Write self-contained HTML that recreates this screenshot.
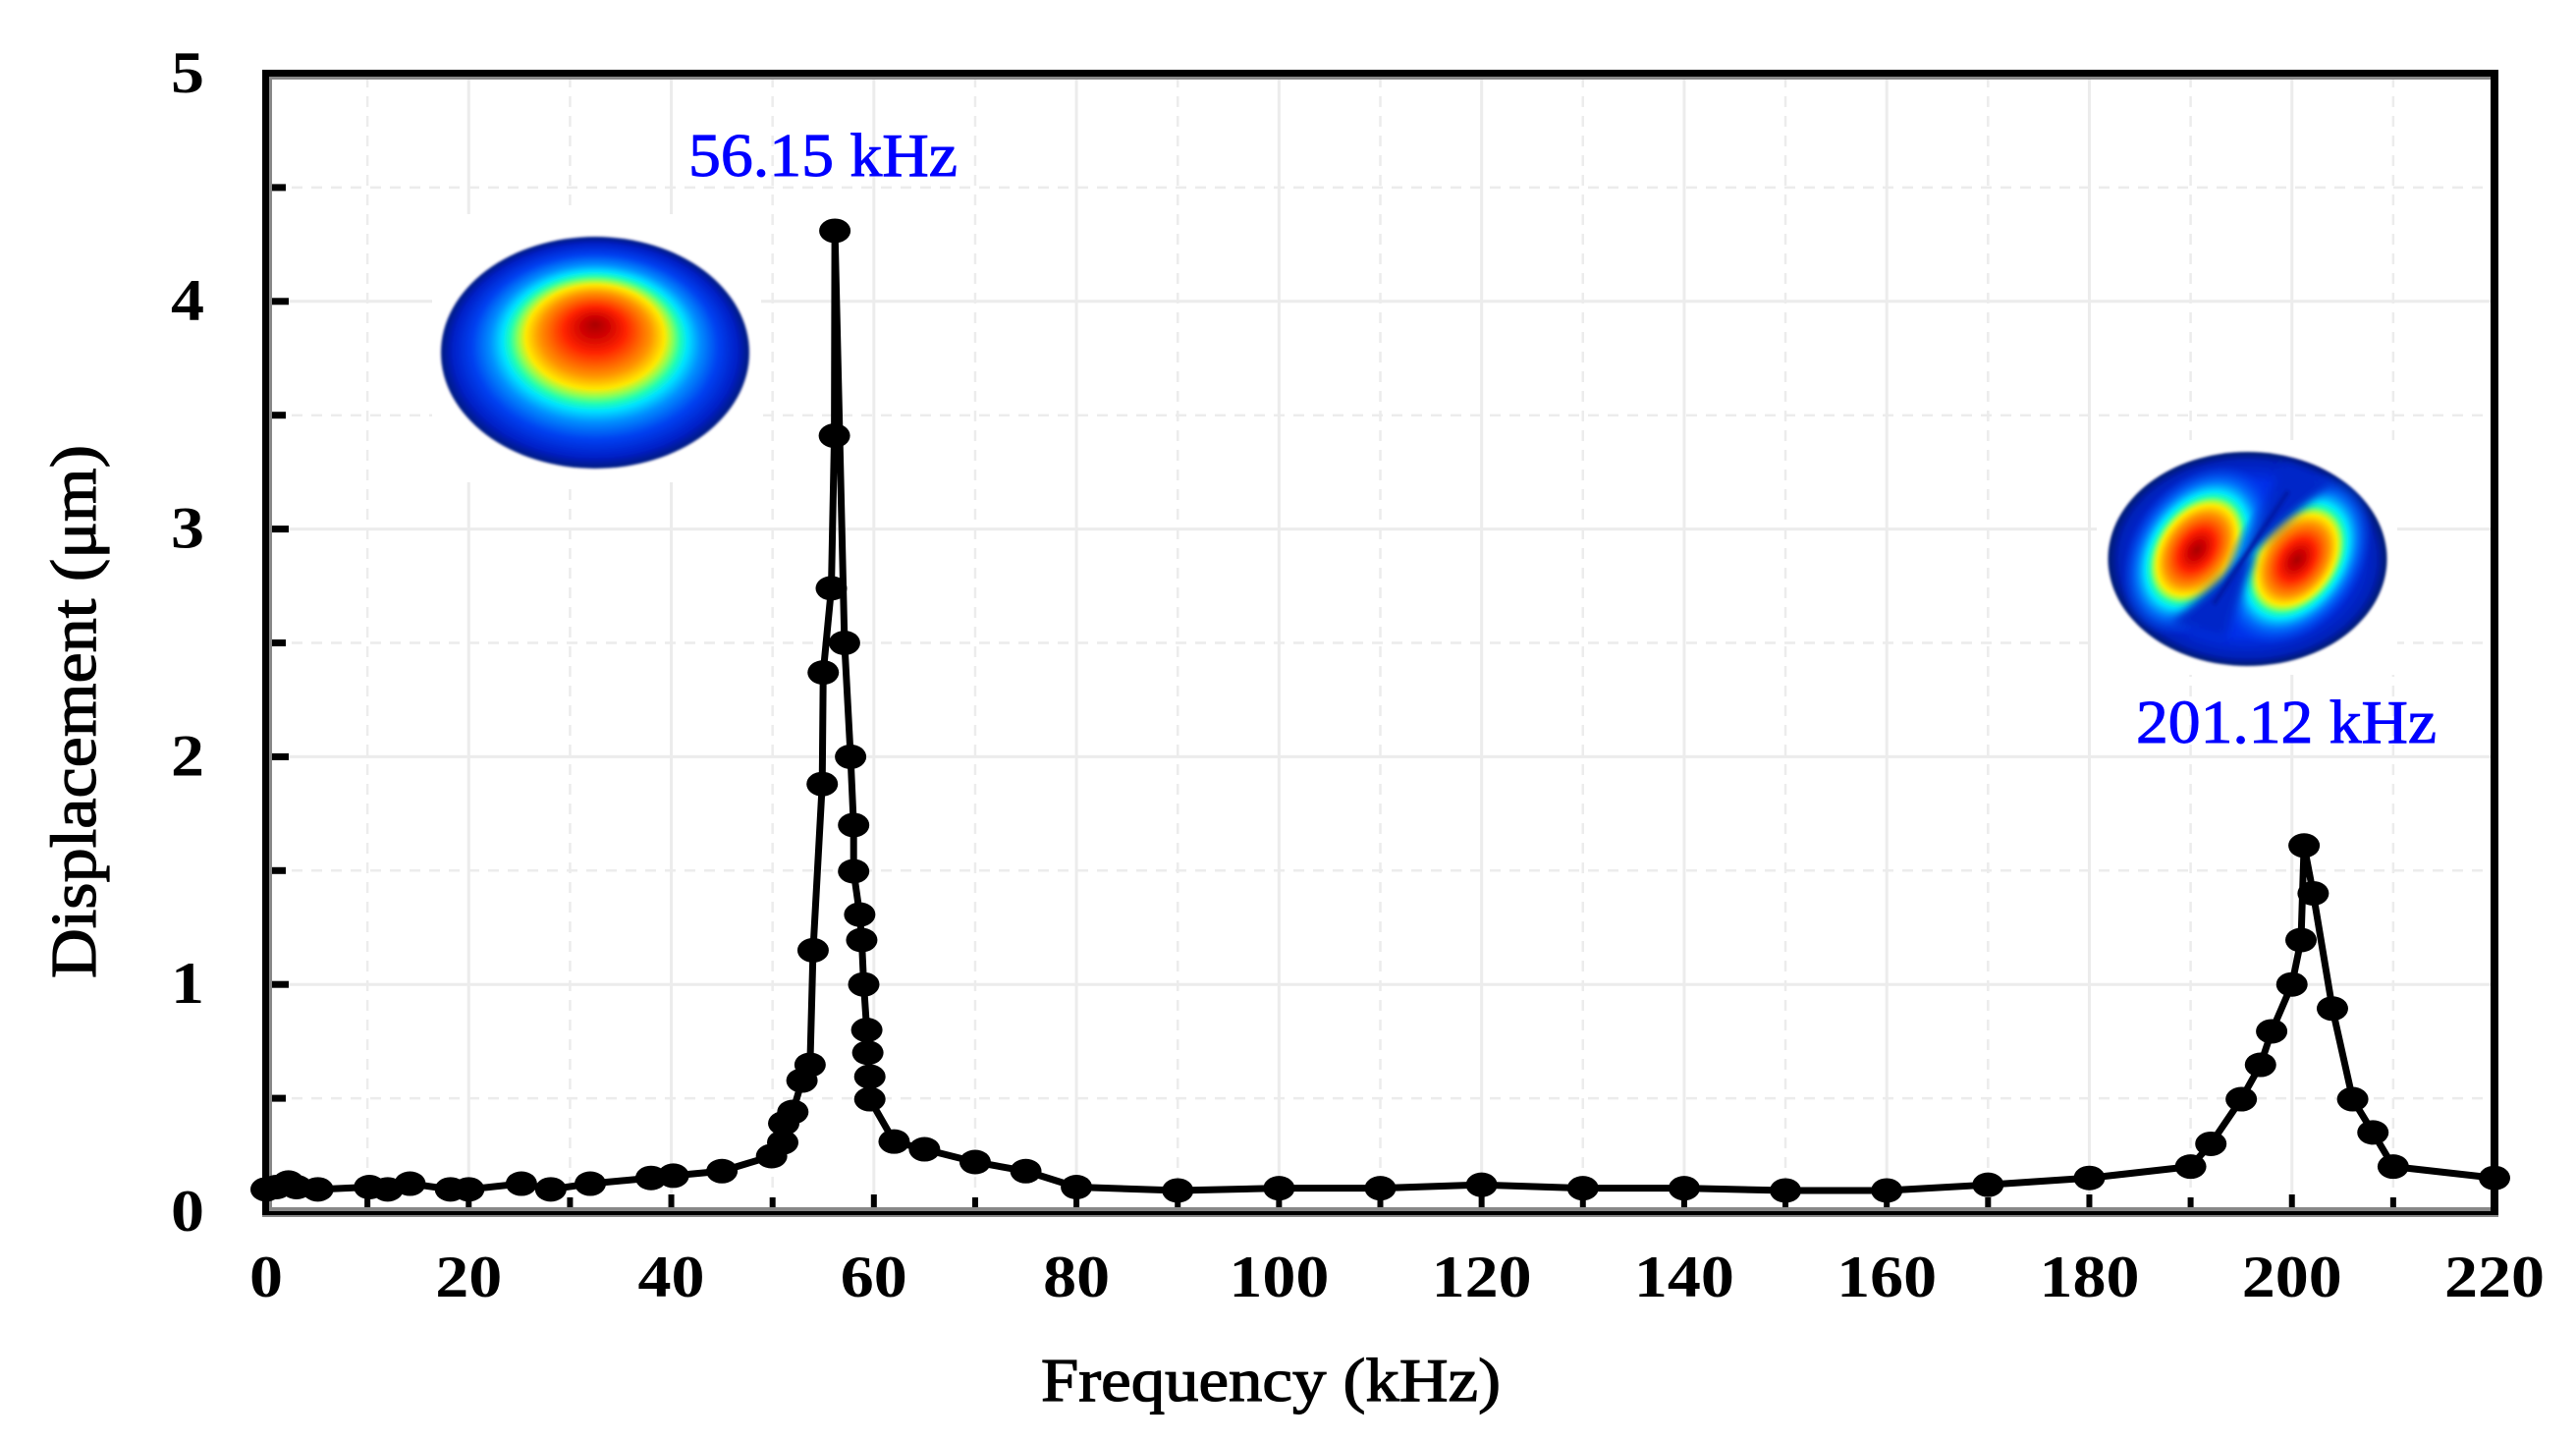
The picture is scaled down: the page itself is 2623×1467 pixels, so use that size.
<!DOCTYPE html>
<html lang="en">
<head>
<meta charset="utf-8">
<title>Displacement vs Frequency</title>
<style>
html,body{margin:0;padding:0;background:#fff;width:2623px;height:1467px;overflow:hidden}
svg{display:block}
text{font-family:"Liberation Serif",serif}
</style>
</head>
<body>
<svg id="chart" xmlns="http://www.w3.org/2000/svg" width="2623" height="1467" viewBox="0 0 2623 1467">
  <defs>
    <radialGradient id="jet1" cx="0.5" cy="0.5" r="0.5" fx="0.5" fy="0.377">
      <stop offset="0" stop-color="#a80000"/>
      <stop offset="0.08" stop-color="#cc0000"/>
      <stop offset="0.2" stop-color="#ff2400"/>
      <stop offset="0.36" stop-color="#ff9400"/>
      <stop offset="0.45" stop-color="#ffea00"/>
      <stop offset="0.5" stop-color="#90ff50"/>
      <stop offset="0.55" stop-color="#20ffb0"/>
      <stop offset="0.6" stop-color="#00e4ff"/>
      <stop offset="0.68" stop-color="#0090ff"/>
      <stop offset="0.8" stop-color="#0040f0"/>
      <stop offset="0.92" stop-color="#0020c8"/>
      <stop offset="1" stop-color="#001a80"/>
    </radialGradient>
    <radialGradient id="jet2base" cx="0.5" cy="0.5" r="0.5">
      <stop offset="0" stop-color="#0050ff"/>
      <stop offset="0.72" stop-color="#0030e8"/>
      <stop offset="0.92" stop-color="#0020b8"/>
      <stop offset="1" stop-color="#001a70"/>
    </radialGradient>
    <radialGradient id="lobe" cx="0.5" cy="0.5" r="0.5">
      <stop offset="0" stop-color="#a80000"/>
      <stop offset="0.1" stop-color="#cc0000"/>
      <stop offset="0.24" stop-color="#ff2400"/>
      <stop offset="0.42" stop-color="#ff9400"/>
      <stop offset="0.52" stop-color="#ffea00"/>
      <stop offset="0.57" stop-color="#a0ff40"/>
      <stop offset="0.62" stop-color="#20ffb0"/>
      <stop offset="0.68" stop-color="#00e4ff"/>
      <stop offset="0.8" stop-color="#0080ff" stop-opacity="0.85"/>
      <stop offset="1" stop-color="#0040f0" stop-opacity="0"/>
    </radialGradient>
    <clipPath id="clip2"><ellipse cx="2288.5" cy="569" rx="142" ry="109"/></clipPath>
    <filter id="soft" x="-20%" y="-20%" width="140%" height="140%"><feGaussianBlur stdDeviation="1.2"/></filter>
    <filter id="nodal" x="-50%" y="-50%" width="200%" height="200%"><feGaussianBlur stdDeviation="5"/></filter>
  </defs>
  <g id="grid"></g>
  <rect x="440" y="218" width="335" height="273" fill="#fff"/>
  <rect x="2135" y="448" width="306" height="239" fill="#fff"/>
  <ellipse cx="606" cy="359" rx="157" ry="118" fill="url(#jet1)" filter="url(#soft)"/>
  <g filter="url(#soft)">
    <ellipse cx="2288.5" cy="569" rx="142" ry="109" fill="url(#jet2base)"/>
    <g clip-path="url(#clip2)">
      <ellipse cx="2237" cy="560" rx="96" ry="66" fill="url(#lobe)" transform="rotate(-55 2237 560)"/>
      <ellipse cx="2339" cy="570" rx="96" ry="66" fill="url(#lobe)" transform="rotate(-55 2339 570)"/>
      <polygon points="2325,470 2375,490 2294,562 2295,570 2265,650 2210,635 2286,566 2288,558" fill="#0028c8" filter="url(#nodal)"/>
      <line x1="2330" y1="500" x2="2254" y2="615" stroke="#001ca8" stroke-width="5" filter="url(#soft)"/>
    </g>
  </g>
  <g id="ticks"></g>
  <g>
    <rect x="274" y="78" width="3" height="1155" fill="#888"/>
    <rect x="274" y="78" width="2262" height="3" fill="#888"/>
    <rect x="274" y="1229" width="2262" height="4" fill="#888"/>
    <rect x="267" y="1237" width="2277" height="2" fill="#888"/>
    <rect x="267" y="71" width="7" height="1166" fill="#000"/>
    <rect x="2536" y="71" width="8" height="1166" fill="#000"/>
    <rect x="267" y="71" width="2277" height="7" fill="#000"/>
    <rect x="267" y="1233" width="2277" height="4" fill="#000"/>
  </g>
  <g id="series"></g>
  <g id="labels"></g>
  <text x="1060" y="1426" font-size="62" font-weight="400" stroke="#000" stroke-width="1.2" textLength="468" lengthAdjust="spacingAndGlyphs" fill="#000">Frequency (kHz)</text>
  <text transform="translate(97 996) rotate(-90)" x="0" y="0" font-size="66" font-weight="400" stroke="#000" stroke-width="1.2" textLength="543" lengthAdjust="spacingAndGlyphs" fill="#000">Displacement (μm)</text>
  <text x="701" y="179" font-size="62" font-weight="400" stroke="#0000ff" stroke-width="1" textLength="274" lengthAdjust="spacingAndGlyphs" fill="#0000ff">56.15 kHz</text>
  <text x="2175" y="756" font-size="62" font-weight="400" stroke="#0000ff" stroke-width="1" textLength="306" lengthAdjust="spacingAndGlyphs" fill="#0000ff">201.12 kHz</text>
</svg>
<script>
const frequencies = [0,1,2.2,3,5.1,10.2,12,14.2,18.2,20,25.2,28.1,32,38,40.2,45,49.9,51,51.1,52,52.9,53.7,54,54.9,55,55.8,56.1,56.15,57.1,57.7,58,58,58.6,58.8,59,59.3,59.4,59.6,59.6,62,65,70,75,80,90,100,110,120,130,140,150,160,170,180,190,192,195,196.9,198,200,200.9,201.2,202.1,204,206,208,210,220];
const displacements = [0.1,0.11,0.13,0.11,0.1,0.11,0.1,0.125,0.1,0.1,0.125,0.1,0.125,0.15,0.16,0.18,0.246,0.306,0.39,0.44,0.578,0.647,1.15,1.88,2.37,2.74,3.41,4.31,2.5,2.0,1.7,1.497,1.307,1.195,1.0,0.8,0.7,0.595,0.496,0.31,0.276,0.22,0.18,0.11,0.095,0.105,0.105,0.12,0.105,0.105,0.095,0.095,0.12,0.15,0.2,0.3,0.496,0.647,0.794,1.0,1.195,1.61,1.4,0.894,0.496,0.35,0.2,0.15];
const xTickLabels = ["0","20","40","60","80","100","120","140","160","180","200","220"];
const yTickLabels = ["0","1","2","3","4","5"];

const SVG_NS = "http://www.w3.org/2000/svg";
const xMin = 0, xMax = 220, yMin = 0, yMax = 5;
const plotLeft = 271, plotRight = 2540, plotBottom = 1234, plotTop = 75;
function xScale(v){ return plotLeft + (v - xMin) / (xMax - xMin) * (plotRight - plotLeft); }
function yScale(v){ return plotBottom - (v - yMin) / (yMax - yMin) * (plotBottom - plotTop); }
function make(tag, attrs, parent){
  const el = document.createElementNS(SVG_NS, tag);
  for (const k in attrs) el.setAttribute(k, attrs[k]);
  parent.appendChild(el);
  return el;
}
const gridG = document.getElementById("grid");
const ticksG = document.getElementById("ticks");
const seriesG = document.getElementById("series");
const labelsG = document.getElementById("labels");

const xValues = xTickLabels.map(Number);
const yValues = yTickLabels.map(Number);

xValues.forEach(function(v, i){
  const x = xScale(v);
  if (v > xMin && v < xMax) {
    const g = make("line", {x1:x, x2:x, y1:78, y2:1229, stroke:"#ececec", "stroke-width":3}, gridG);
    
    
    const t = make("rect", {x:x-3, y:1216, width:6, height:14, fill:"#000"}, ticksG);
    
    
  }
  const lab = make("text", {x:x, y:1320, "font-size":60, "font-weight":700, "text-anchor":"middle", textLength:34*xTickLabels[i].length, lengthAdjust:"spacingAndGlyphs", fill:"#000"}, labelsG);
  lab.textContent = xTickLabels[i];
  
  
  if (i < xValues.length - 1) {
    const mid = (v + xValues[i + 1]) / 2;
    const mx = xScale(mid);
    const m = make("line", {x1:mx, x2:mx, y1:78, y2:1229, stroke:"#ececec", "stroke-width":2.5, "stroke-dasharray":"11 9"}, gridG);
    
    
    const mt = make("rect", {x:mx-3, y:1219, width:6, height:11, fill:"#000"}, ticksG);
    
    
  }
});

yValues.forEach(function(v, i){
  const y = yScale(v);
  if (v > yMin && v < yMax) {
    const g = make("line", {x1:277, x2:2536, y1:y, y2:y, stroke:"#ececec", "stroke-width":3}, gridG);
    
    
    const t = make("rect", {x:274, y:y-3.5, width:20, height:7, fill:"#000"}, ticksG);
    
    
  }
  const lab = make("text", {x:191, y:y+19, "font-size":60, "font-weight":700, "text-anchor":"middle", textLength:34*yTickLabels[i].length, lengthAdjust:"spacingAndGlyphs", fill:"#000"}, labelsG);
  lab.textContent = yTickLabels[i];
  
  
  if (i < yValues.length - 1) {
    const mid = (v + yValues[i + 1]) / 2;
    const my = yScale(mid);
    const m = make("line", {x1:277, x2:2536, y1:my, y2:my, stroke:"#ececec", "stroke-width":2.5, "stroke-dasharray":"11 9"}, gridG);
    
    
    const mt = make("rect", {x:274, y:my-3.5, width:17, height:7, fill:"#000"}, ticksG);
    
    
  }
});

const linePoints = frequencies.map(function(f, i){ return xScale(f) + "," + yScale(displacements[i]); }).join(" ");
const seriesLine = make("polyline", {points:linePoints, fill:"none", stroke:"#000", "stroke-width":7, "stroke-linejoin":"round"}, seriesG);



frequencies.forEach(function(f, i){
  const marker = make("ellipse", {cx:xScale(f), cy:yScale(displacements[i]), rx:16, ry:12.5, fill:"#000"}, seriesG);
  
  
});
</script>
</body>
</html>
